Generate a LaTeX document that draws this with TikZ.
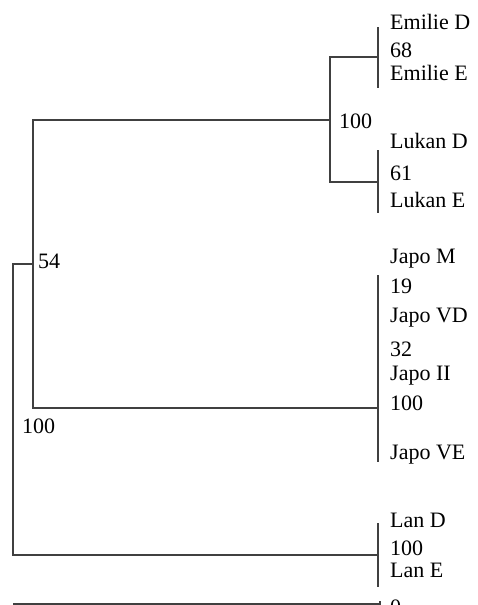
\documentclass[tikz,border=0pt]{standalone}
\usepackage{fontspec}
\setmainfont{Liberation Serif}
\begin{document}
\begin{tikzpicture}[
    x=1pt, y=-1pt,
    branch/.style={line width=1.3pt, draw=black!75},
    taxon/.style={anchor=base west, inner sep=0pt, font=\fontsize{22}{25}\selectfont},
    support/.style={taxon}
]
\useasboundingbox (0,0) rectangle (477,605);

% Tip labels and support values
\node[taxon] (emD) at (390,29) {Emilie D};
\node[support] (s68) at (390,57) {68};
\node[taxon] (emE) at (390,80) {Emilie E};
\node[taxon] (luD) at (390,148) {Lukan D};
\node[support] (s61) at (390,180) {61};
\node[taxon] (luE) at (390,207) {Lukan E};
\node[taxon] (jaM) at (390,263) {Japo M};
\node[support] (s19) at (390,293) {19};
\node[taxon] (jaVD) at (390,322) {Japo VD};
\node[support] (s32) at (390,356) {32};
\node[taxon] (jaII) at (390,380) {Japo II};
\node[support] (s100j) at (390,410) {100};
\node[taxon] (jaVE) at (390,459) {Japo VE};
\node[taxon] (laD) at (390,527) {Lan D};
\node[support] (s100l) at (390,555) {100};
\node[taxon] (laE) at (390,577) {Lan E};
\node[support] (s0) at (390,614) {0};

% Support values at inner nodes
\node[support] (s100el) at (339,128) {100};
\node[support] (s54) at (38,268) {54};
\node[support] (s100r) at (22,433) {100};

% Clade bars at the tips
\coordinate (emTop) at (378,27);  \coordinate (emBot) at (378,88);
\coordinate (luTop) at (378,150); \coordinate (luBot) at (378,213);
\coordinate (jaTop) at (378,275); \coordinate (jaBot) at (378,462);
\coordinate (laTop) at (378,523); \coordinate (laBot) at (378,587);
\draw[branch] (emTop) -- (emBot);
\draw[branch] (luTop) -- (luBot);
\draw[branch] (jaTop) -- (jaBot);
\draw[branch] (laTop) -- (laBot);

% Inner nodes
\coordinate (emilie) at (378,57);
\coordinate (lukan) at (378,182);
\coordinate (japo) at (378,408);
\coordinate (lan) at (378,555);
\coordinate (emlu) at (330,120);
\coordinate (core) at (33,264);
\coordinate (root) at (13,264);

% Branches
\draw[branch] (emilie) -| (emlu) |- (lukan);
\draw[branch] (emlu) -| (core) |- (japo);
\draw[branch] (core) -| (root) |- (lan);

% Scale line
\coordinate (scaleL) at (13,604);
\coordinate (scaleR) at (380,604);
\coordinate (scaleT) at (380,601);
\draw[branch] (scaleL) -- (scaleR) -- (scaleT);

\end{tikzpicture}
\end{document}
